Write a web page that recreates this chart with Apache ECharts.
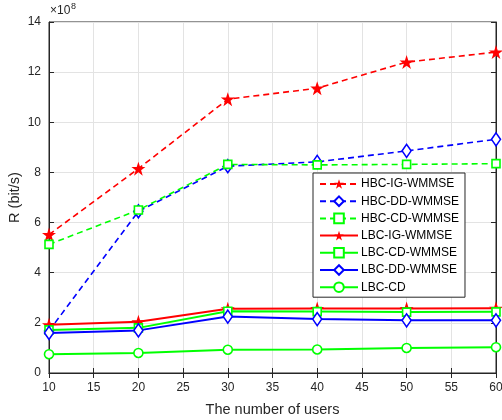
<!DOCTYPE html>
<html>
<head>
<meta charset="utf-8">
<script src="https://cdn.jsdelivr.net/npm/echarts@6/dist/echarts.min.js"></script>
<style>
  html, body { margin: 0; padding: 0; background: #fff; }
  #chart { width: 502px; height: 420px; }
</style>
</head>
<body>
<div id="chart"></div>
<script>
// data, rates in units of 1e8 bit/s
const users = [10, 20, 30, 40, 50, 60]
const hbcIg = [5.52, 8.15, 10.92, 11.36, 12.4, 12.8]
const hbcDd = [1.68, 6.45, 8.25, 8.42, 8.86, 9.32]
const hbcCd = [5.13, 6.5, 8.32, 8.3, 8.32, 8.35]
const lbcIg = [1.92, 2.04, 2.56, 2.57, 2.57, 2.58]
const lbcCdW = [1.72, 1.8, 2.46, 2.45, 2.43, 2.44]
const lbcDd = [1.6, 1.7, 2.25, 2.15, 2.1, 2.1]
const lbcCd = [0.75, 0.8, 0.93, 0.94, 1.0, 1.03]

const starPath = 'path://M50,0 L61.8,35.1 L98.9,35.1 L68.9,56.7 L80.4,91.9 L50,70.2 L19.6,91.9 L31.1,56.7 L1.1,35.1 L38.2,35.1 Z'
const font = 'Liberation Sans, Arial, Helvetica, sans-serif'
const txt = '#262626'

function makeSeries(name, data, color, dashed, symbol, size, filled) {
  return {
    name: name,
    type: 'line',
    data: users.map((u, i) => [u, data[i]]),
    symbol: symbol,
    symbolSize: size,
    showAllSymbol: true,
    lineStyle: { color: color, width: dashed ? 1.6 : 2, type: dashed ? [6, 4] : 'solid' },
    itemStyle: { color: filled ? color : '#fff', borderColor: color, borderWidth: filled ? 0 : 1.6 },
    emphasis: { disabled: true }
  }
}

const chart = echarts.init(document.getElementById('chart'))
chart.setOption({
  animation: false,
  textStyle: { fontFamily: font },
  grid: { left: 49, right: 6, top: 22, bottom: 47, show: true, borderColor: txt, borderWidth: 1, outerBoundsMode: 'none' },
  xAxis: [{
    type: 'value', min: 10, max: 60, interval: 5,
    name: 'The number of users', nameLocation: 'middle', nameGap: 29,
    nameTextStyle: { color: txt, fontSize: 14.5, fontFamily: font },
    axisLine: { lineStyle: { color: txt } },
    axisTick: { inside: true, length: 5, lineStyle: { color: txt } },
    axisLabel: { color: txt, fontSize: 12, margin: 9 },
    splitLine: { lineStyle: { color: '#e3e3e3' } }
  }, {
    type: 'value', min: 10, max: 60, interval: 5, position: 'top',
    axisLine: { lineStyle: { color: txt } },
    axisTick: { inside: true, length: 5, lineStyle: { color: txt } },
    axisLabel: { show: false }, splitLine: { show: false }
  }],
  yAxis: [{
    type: 'value', min: 0, max: 14, interval: 2,
    name: 'R (bit/s)', nameLocation: 'middle', nameGap: 27, nameMoveOverlap: false,
    nameTextStyle: { color: txt, fontSize: 14.5, fontFamily: font },
    axisLine: { show: true, lineStyle: { color: txt } },
    axisTick: { show: true, inside: true, length: 5, lineStyle: { color: txt } },
    axisLabel: { color: txt, fontSize: 12, margin: 8 },
    splitLine: { lineStyle: { color: '#e3e3e3' } }
  }, {
    type: 'value', min: 0, max: 14, interval: 2, position: 'right',
    axisLine: { show: true, lineStyle: { color: txt } },
    axisTick: { show: true, inside: true, length: 5, lineStyle: { color: txt } },
    axisLabel: { show: false }, splitLine: { show: false }
  }],
  legend: {
    left: 313, top: 173,
    orient: 'vertical',
    backgroundColor: '#fff',
    borderColor: '#262626', borderWidth: 1,
    padding: [5, 6, 4, 6],
    itemGap: 5.2,
    itemWidth: 38, itemHeight: 12,
    textStyle: { color: '#000', fontSize: 12, fontFamily: font, padding: [0, 0, 0, -2] },
    data: ['HBC-IG-WMMSE', 'HBC-DD-WMMSE', 'HBC-CD-WMMSE', 'LBC-IG-WMMSE', 'LBC-CD-WMMSE', 'LBC-DD-WMMSE', 'LBC-CD']
  },
  graphic: [{
    type: 'text', left: 50, top: 5,
    style: { text: '×10', fill: txt, font: '12px ' + font }
  }, {
    type: 'text', left: 71, top: 2,
    style: { text: '8', fill: txt, font: '9px ' + font }
  }],
  series: [
    makeSeries('HBC-IG-WMMSE', hbcIg, '#ff0000', true, starPath, 14, true),
    makeSeries('HBC-DD-WMMSE', hbcDd, '#0000ff', true, 'diamond', [9, 13], false),
    makeSeries('HBC-CD-WMMSE', hbcCd, '#00ff00', true, 'rect', 8, false),
    makeSeries('LBC-IG-WMMSE', lbcIg, '#ff0000', false, starPath, 14, true),
    makeSeries('LBC-CD-WMMSE', lbcCdW, '#00ff00', false, 'rect', 8, false),
    makeSeries('LBC-DD-WMMSE', lbcDd, '#0000ff', false, 'diamond', [9, 13], false),
    makeSeries('LBC-CD', lbcCd, '#00ff00', false, 'circle', 9, false)
  ]
})
</script>
</body>
</html>
